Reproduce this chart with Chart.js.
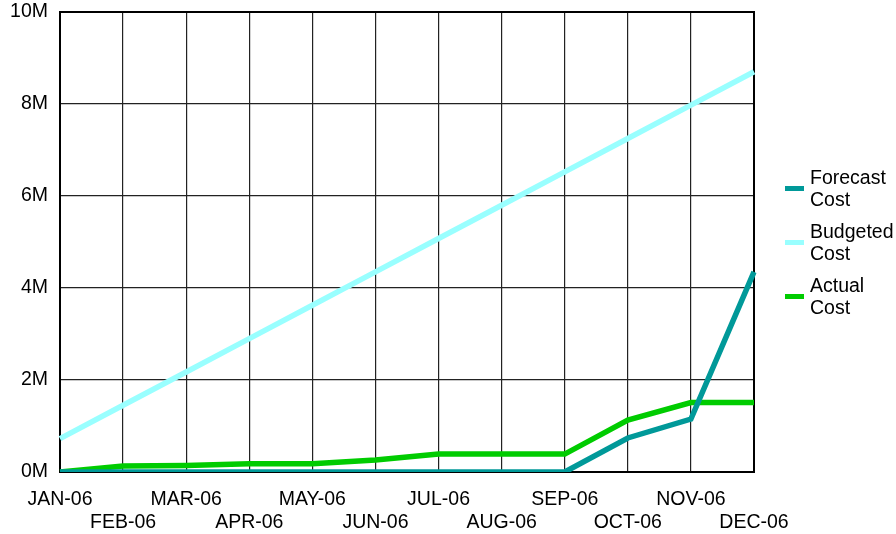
<!DOCTYPE html>
<html>
<head>
<meta charset="utf-8">
<script src="https://cdn.jsdelivr.net/npm/chart.js@4/dist/chart.umd.min.js"></script>
<style>
  html, body { margin: 0; padding: 0; background: #fff; }
  #wrap { position: relative; width: 896px; height: 534px; }
</style>
</head>
<body>
<div id="wrap"><canvas id="c" width="896" height="534"></canvas></div>
<script>
// Monthly cost tracking for 2006 (values in millions)
const months = ['JAN-06', 'FEB-06', 'MAR-06', 'APR-06', 'MAY-06', 'JUN-06',
                'JUL-06', 'AUG-06', 'SEP-06', 'OCT-06', 'NOV-06', 'DEC-06'];
const forecastCost = [0, 0, 0, 0, 0, 0, 0, 0, 0, 0.74, 1.15, 4.35];
const budgetedCost = [0.725, 1.45, 2.175, 2.9, 3.625, 4.35, 5.075, 5.8, 6.525, 7.25, 7.975, 8.7];
const actualCost   = [0, 0.13, 0.14, 0.18, 0.18, 0.26, 0.39, 0.39, 0.39, 1.13, 1.51, 1.51];
const yTicks = [0, 2, 4, 6, 8, 10];

const seriesNames = [['Forecast', 'Cost'], ['Budgeted', 'Cost'], ['Actual', 'Cost']];
const seriesColors = ['#009999', '#99FFFF', '#00CC00'];

const FONT = 'Liberation Sans, Arial, sans-serif';

// Frame around the plot area plus the two-line legend on the right
const framePlugin = {
  id: 'frameAndLegend',
  beforeDatasetsDraw(chart) {
    const { ctx, chartArea: a } = chart;
    ctx.save();
    ctx.strokeStyle = '#000';
    ctx.lineWidth = 2;
    ctx.strokeRect(a.left, a.top, a.right - a.left, a.bottom - a.top);
    ctx.restore();
  },
  afterDraw(chart) {
    const { ctx } = chart;
    ctx.save();
    ctx.font = '19.5px ' + FONT;
    ctx.textBaseline = 'middle';
    ctx.textAlign = 'left';
    chart.data.datasets.forEach((ds, i) => {
      const cy = 188 + i * 54;
      ctx.fillStyle = ds.borderColor;
      ctx.fillRect(785, cy - 2, 19, 5);
      ctx.fillStyle = '#000';
      ds.label.forEach((line, j) => {
        ctx.fillText(line, 810, cy - 9 + j * 22);
      });
    });
    ctx.restore();
  }
};

new Chart(document.getElementById('c'), {
  type: 'line',
  data: {
    labels: months,
    datasets: [
      { label: seriesNames[0], data: forecastCost, borderColor: seriesColors[0] },
      { label: seriesNames[1], data: budgetedCost, borderColor: seriesColors[1] },
      { label: seriesNames[2], data: actualCost,   borderColor: seriesColors[2] }
    ].map(d => Object.assign(d, {
      borderWidth: 5.5, pointRadius: 0, tension: 0, fill: false,
      backgroundColor: d.borderColor
    }))
  },
  options: {
    responsive: false,
    animation: false,
    layout: { padding: { left: 0, top: 12, right: 142, bottom: 0 } },
    plugins: { legend: { display: false }, tooltip: { enabled: false } },
    scales: {
      x: {
        offset: false,
        grid: { color: '#222', lineWidth: 1.2, drawTicks: false },
        border: { display: false },
        ticks: {
          autoSkip: false, maxRotation: 0, minRotation: 0,
          padding: 16, color: '#000',
          font: { family: FONT, size: 19.5, lineHeight: 1.18 },
          callback: (v, i) => (i % 2 === 0 ? [months[i]] : ['', months[i]])
        },
        afterFit: s => { s.height = 62; }
      },
      y: {
        min: 0, max: 10,
        afterBuildTicks: s => { s.ticks = yTicks.map(v => ({ value: v })); },
        grid: { color: '#222', lineWidth: 1.2, drawTicks: false },
        border: { display: false },
        ticks: {
          padding: 12, color: '#000',
          font: { family: FONT, size: 19.5 },
          callback: v => v + 'M'
        },
        afterFit: s => { s.width = 60; s.paddingTop = 0; s.paddingBottom = 0; }
      }
    }
  },
  plugins: [framePlugin]
});
</script>
</body>
</html>
